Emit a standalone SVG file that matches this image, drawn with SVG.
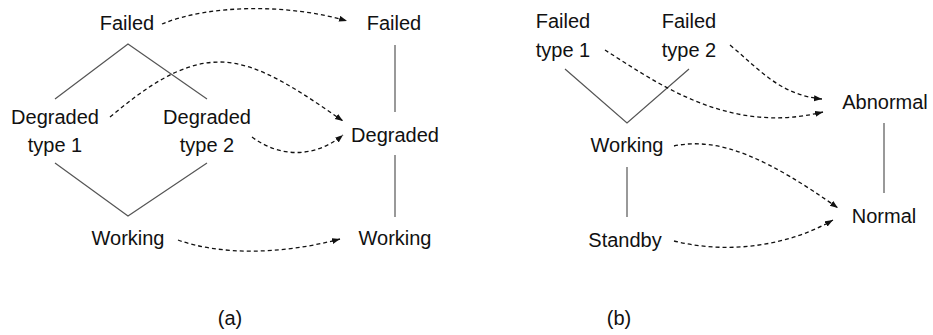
<svg xmlns="http://www.w3.org/2000/svg" width="933" height="335" viewBox="0 0 933 335">
  <style>
    text { font-family: "Liberation Sans", Arial, sans-serif; font-size: 20px; fill: #111; text-anchor: middle; }
    .rel { fill: none; stroke: #555; stroke-width: 1.2; }
    .arc { fill: none; stroke: #111; stroke-width: 1.3; stroke-dasharray: 4 3; }
  </style>
  <defs>
    <marker id="head" markerUnits="userSpaceOnUse" markerWidth="9" markerHeight="7" refX="8" refY="3" orient="auto">
      <path d="M0,0 L8,3 L0,6 z" fill="#111"/>
    </marker>
  </defs>
  <rect width="933" height="335" fill="#fff"/>

  <!-- (a) ordering relations -->
  <g id="order-a">
    <polyline class="rel" points="55,99 128,44 207,99"/>
    <polyline class="rel" points="55,163 128,216 207,163"/>
    <line class="rel" x1="395" y1="45" x2="395" y2="112"/>
    <line class="rel" x1="395" y1="155" x2="395" y2="217"/>
  </g>
  <!-- (b) ordering relations -->
  <g id="order-b">
    <polyline class="rel" points="565,69 627,123 689,69"/>
    <line class="rel" x1="627" y1="167" x2="627" y2="217"/>
    <line class="rel" x1="884" y1="123" x2="884" y2="193"/>
  </g>

  <!-- mappings -->
  <g id="connectors">
    <path class="arc" marker-end="url(#head)" d="M162,24 C210,4 290,4 347,21"/>
    <path class="arc" marker-end="url(#head)" d="M110,117 C145,88 180,62 220,62 C260,62 305,95 343,121"/>
    <path class="arc" marker-end="url(#head)" d="M252,137 C280,158 315,158 343,135"/>
    <path class="arc" marker-end="url(#head)" d="M178,240 C220,255 280,255 340,239"/>
    <path class="arc" marker-end="url(#head)" d="M605,50 C660,85 730,135 823,112"/>
    <path class="arc" marker-end="url(#head)" d="M730,45 C760,70 780,95 822,99"/>
    <path class="arc" marker-end="url(#head)" d="M674,146 C720,136 770,160 838,208"/>
    <path class="arc" marker-end="url(#head)" d="M674,241 C730,255 790,245 833,220"/>
  </g>

  <!-- (a) nodes -->
  <g id="a-failed"><text x="127" y="30">Failed</text></g>
  <g id="a-degraded1"><text x="55" y="124">Degraded</text><text x="55" y="152">type 1</text></g>
  <g id="a-degraded2"><text x="207" y="124">Degraded</text><text x="207" y="152">type 2</text></g>
  <g id="a-working"><text x="128" y="245">Working</text></g>
  <g id="a-failed-r"><text x="394" y="30">Failed</text></g>
  <g id="a-degraded-r"><text x="395" y="142">Degraded</text></g>
  <g id="a-working-r"><text x="395" y="245">Working</text></g>

  <!-- (b) nodes -->
  <g id="b-failed1"><text x="563" y="28">Failed</text><text x="563" y="57">type 1</text></g>
  <g id="b-failed2"><text x="689" y="28">Failed</text><text x="689" y="57">type 2</text></g>
  <g id="b-working"><text x="627" y="152">Working</text></g>
  <g id="b-standby"><text x="625" y="247">Standby</text></g>
  <g id="b-abnormal"><text x="885" y="109">Abnormal</text></g>
  <g id="b-normal"><text x="884" y="223">Normal</text></g>

  <!-- captions -->
  <text x="230" y="325">(a)</text>
  <text x="619" y="325">(b)</text>
</svg>
